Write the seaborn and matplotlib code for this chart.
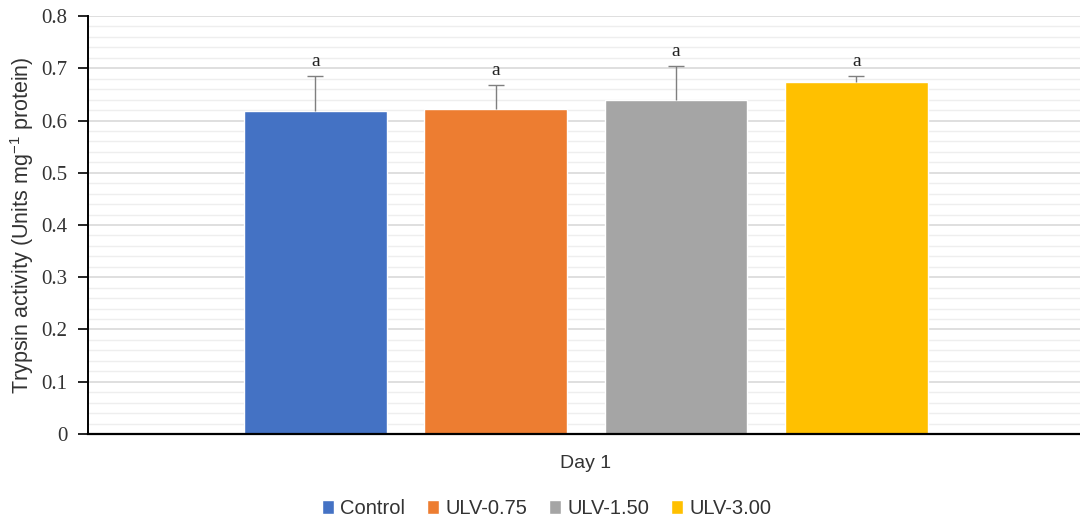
import matplotlib
matplotlib.use("Agg")
import matplotlib.pyplot as plt
from matplotlib.ticker import MultipleLocator
import seaborn as sns
import pandas as pd

# Trypsin activity on day 1 by treatment
treatments = ["Control", "ULV-0.75", "ULV-1.50", "ULV-3.00"]
means = [0.619, 0.622, 0.640, 0.673]
sd_plus = [0.066, 0.046, 0.064, 0.013]
letters = ["a", "a", "a", "a"]
day_label = "Day 1"
colors = ["#4472C4", "#ED7D31", "#A5A5A5", "#FFC000"]

df = pd.DataFrame({"day": [day_label] * len(treatments),
                   "treatment": treatments,
                   "activity": means})

sns.set_style("white")
plt.rcParams["font.family"] = ["Liberation Sans", "DejaVu Sans"]

fig = plt.figure(figsize=(10.8, 5.22), dpi=100)
ax = fig.add_axes([0.0815, 0.1686, 0.9185, 0.8007])

sns.barplot(data=df, x="day", y="activity", hue="treatment",
            hue_order=treatments, palette=colors, width=0.8, gap=0.21,
            errorbar=None, saturation=1, ax=ax, legend=True)

bars = [p for p in ax.patches if p.get_height() > 0]
for bar, m, e, lab in zip(bars, means, sd_plus, letters):
    xc = bar.get_x() + bar.get_width() / 2
    _, caps, _ = ax.errorbar([xc], [m], yerr=[[0], [e]], fmt="none",
                             ecolor="#7f7f7f", elinewidth=1.0, capsize=6,
                             capthick=1.0, zorder=3)
    # upper (positive) error only: hide the cap sitting on the bar top
    caps[0].set_visible(False)
    ax.text(xc, m + e + 0.011, lab, ha="center", va="bottom",
            fontsize=14, family="Liberation Serif", color="#222222")

ax.set_ylim(0, 0.8)
ax.set_xlim(-0.552, 0.548)
ax.yaxis.set_minor_locator(MultipleLocator(0.02))
ax.set_yticks([i / 10 for i in range(9)])
ax.set_yticklabels(["0"] + [f"{i / 10:.1f}" for i in range(1, 9)],
                   family="Liberation Serif", fontsize=15, color="#333333")
ax.grid(axis="y", which="major", color="#d9d9d9", linewidth=1.2, zorder=0)
ax.grid(axis="y", which="minor", color="#eeeeee", linewidth=1.0, zorder=0)
ax.set_axisbelow(True)

ax.set_xticks([-0.552])
ax.set_xticklabels([""])
ax.tick_params(axis="x", which="both", length=6, width=1.2, color="black", direction="out")
ax.tick_params(axis="y", which="major", length=7, width=1.2, color="black",
               direction="out", left=True, pad=8)
ax.tick_params(axis="y", which="minor", length=0)

for side in ["top", "right"]:
    ax.spines[side].set_visible(False)
ax.spines["left"].set_color("black")
ax.spines["left"].set_linewidth(1.4)
ax.spines["bottom"].set_color("black")
ax.spines["bottom"].set_linewidth(1.6)

ax.set_xlabel("")
ax.set_ylabel(r"Trypsin activity (Units mg$^{\mathregular{-1}}$ protein)",
              fontsize=15.5, color="#333333", labelpad=4)
fig.text(0.542, 0.113, day_label, ha="center", va="center",
         fontsize=14, color="#333333")

handles, labels = ax.get_legend_handles_labels()
ax.get_legend().remove()
fig.legend(handles, labels, loc="center", bbox_to_anchor=(0.506, 0.025),
           ncol=4, frameon=False, fontsize=14.5, handlelength=0.6,
           handleheight=0.7, handletextpad=0.3, columnspacing=1.1,
           labelcolor="#333333")

fig.savefig("out.png", dpi=100)
